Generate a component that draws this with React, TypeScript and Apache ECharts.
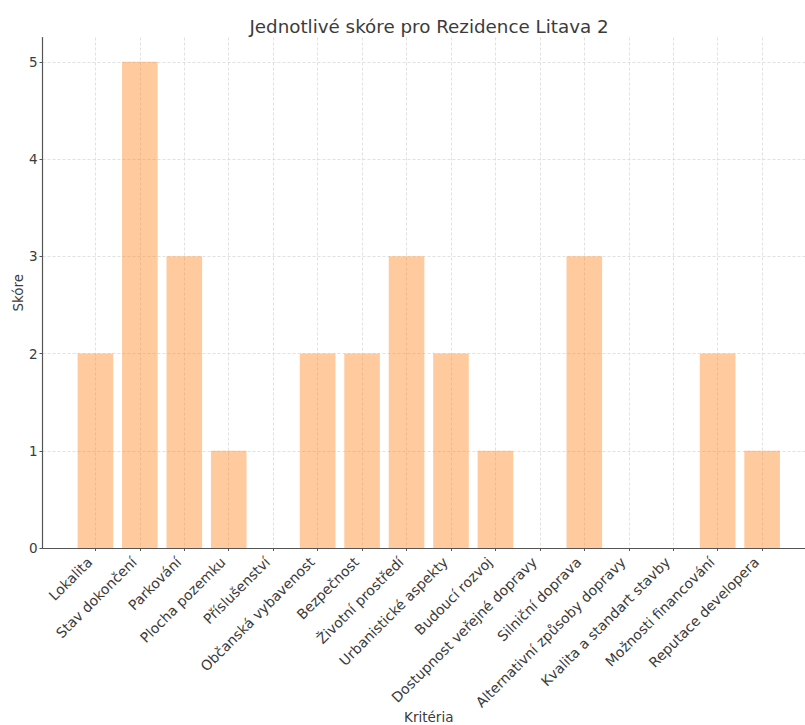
import React, { useEffect, useRef } from "react";
import * as echarts from "echarts";

const TITLE = "Jednotlivé skóre pro Rezidence Litava 2";
const X_NAME = "Kritéria";
const Y_NAME = "Skóre";

const categories = [
  "Lokalita",
  "Stav dokončení",
  "Parkování",
  "Plocha pozemku",
  "Příslušenství",
  "Občanská vybavenost",
  "Bezpečnost",
  "Životní prostředí",
  "Urbanistické aspekty",
  "Budoucí rozvoj",
  "Dostupnost veřejné dopravy",
  "Silniční doprava",
  "Alternativní způsoby dopravy",
  "Kvalita a standart stavby",
  "Možnosti financování",
  "Reputace developera",
];

const scores = [2, 5, 3, 1, 0, 2, 2, 3, 2, 1, 0, 3, 0, 0, 2, 1];

const yTicks = [0, 1, 2, 3, 4, 5];

export default function App() {
  const ref = useRef<HTMLDivElement>(null);

  useEffect(() => {
    if (!ref.current) return;
    const chart = echarts.init(ref.current, null, { renderer: "svg" });
    const font = "DejaVu Sans";
    const textColor = "#3b3b3b";
    const axisColor = "#555555";
    const gridLine = { show: true, lineStyle: { color: "#d9d9d9", type: [3, 2], width: 0.8 } };
    const xIdx = categories.map((_, i) => i);

    chart.setOption({
      animation: false,
      backgroundColor: "#ffffff",
      textStyle: { fontFamily: font, color: textColor },
      title: {
        text: TITLE,
        left: 424,
        textAlign: "center",
        top: 12,
        textStyle: { fontFamily: font, fontSize: 18.3, fontWeight: "normal", color: textColor },
      },
      grid: {
        left: 42.5,
        right: -10,
        top: 37.5,
        bottom: 177,
        containLabel: false,
        outerBoundsMode: "none",
      },
      xAxis: {
        type: "value",
        min: -1.19,
        max: 16.19,
        name: X_NAME,
        nameLocation: "middle",
        nameGap: 162,
        nameMoveOverlap: false,
        nameTextStyle: { fontFamily: font, fontSize: 13.5, color: textColor },
        axisLine: { show: true, onZero: false, lineStyle: { color: axisColor, width: 1.2 } },
        axisTick: { show: true, customValues: xIdx, length: 3, lineStyle: { color: axisColor } },
        axisLabel: {
          customValues: xIdx,
          rotate: 45,
          margin: 6,
          padding: [0, 8, 0, 0],
          fontFamily: font,
          fontSize: 14,
          color: textColor,
          formatter: (v: number) => categories[Math.round(v)] ?? "",
        },
        splitLine: gridLine,
      },
      yAxis: {
        type: "value",
        min: 0,
        max: 5.25,
        name: Y_NAME,
        nameLocation: "middle",
        nameGap: 18,
        nameMoveOverlap: false,
        nameTextStyle: { fontFamily: font, fontSize: 13.5, color: textColor },
        axisLine: { show: true, onZero: false, lineStyle: { color: axisColor, width: 1.2 } },
        axisTick: { show: true, customValues: yTicks, length: 3, lineStyle: { color: axisColor } },
        axisLabel: {
          customValues: yTicks,
          margin: 5,
          fontFamily: font,
          fontSize: 13.5,
          color: textColor,
        },
        splitLine: gridLine,
      },
      series: [
        {
          type: "bar",
          barWidth: 35.6,
          data: scores.map((v, i) => [i, v]),
          itemStyle: { color: "rgba(255,140,40,0.45)" },
        },
      ],
    });
    return () => chart.dispose();
  }, []);

  return (
    <div
      ref={ref}
      style={{ position: "fixed", left: 0, top: 0, width: 805, height: 725 }}
    />
  );
}
